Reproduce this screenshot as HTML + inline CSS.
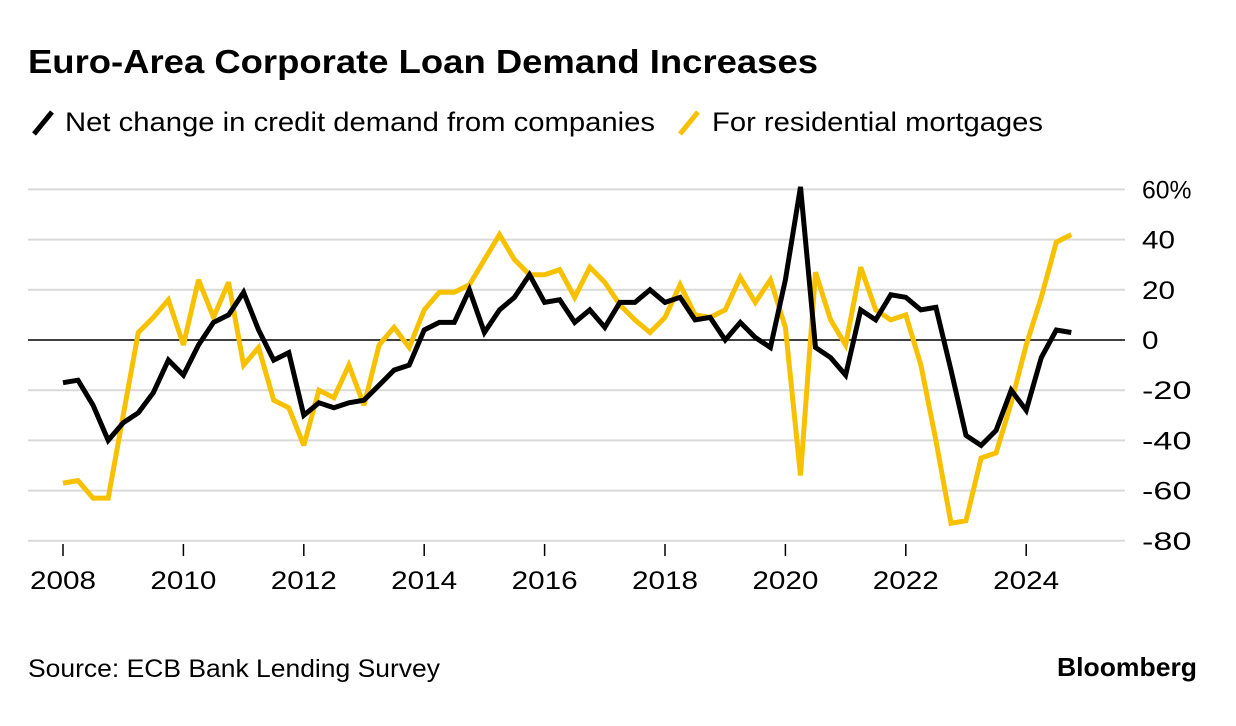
<!DOCTYPE html>
<html><head><meta charset="utf-8"><style>
body{margin:0;background:#fff;font-family:"Liberation Sans",sans-serif;}
#wrap{position:relative;width:1236px;height:726px;overflow:hidden;}
</style></head><body>
<div id="wrap">
<svg id="svg" width="1236" height="726">
<text x="28" y="73" font-size="33" font-weight="bold" fill="#000" textLength="790" lengthAdjust="spacingAndGlyphs">Euro-Area Corporate Loan Demand Increases</text>
<g>
<line x1="34" y1="134" x2="52" y2="112" stroke="#000" stroke-width="5"/>
<text x="65" y="131" font-size="27" fill="#000" textLength="590" lengthAdjust="spacingAndGlyphs">Net change in credit demand from companies</text>
<line x1="680" y1="134" x2="698" y2="112" stroke="#f7c100" stroke-width="5"/>
<text x="712" y="131" font-size="27" fill="#000" textLength="331" lengthAdjust="spacingAndGlyphs">For residential mortgages</text>
</g>
<g id="grid"></g><g id="ticks"></g><g id="series"></g>
<text x="28" y="677" font-size="25" fill="#000" textLength="412" lengthAdjust="spacingAndGlyphs">Source: ECB Bank Lending Survey</text>
<text x="1057" y="676" font-size="26" font-weight="bold" fill="#000" textLength="140" lengthAdjust="spacingAndGlyphs">Bloomberg</text>
</svg></div>
<script>
const yTicks=[60,40,20,0,-20,-40,-60,-80];
const yTickLabels=["60%","40","20","0","-20","-40","-60","-80"];
const xTicks=[2008,2010,2012,2014,2016,2018,2020,2022,2024];
const startYear=2008;
const companies=[-17,-16,-26,-40,-33,-29,-21,-8,-14,-2,7,10,19,4,-8,-5,-30,-25,-27,-25,-24,-18,-12,-10,4,7,7,20,3,12,17,26,15,16,7,12,5,15,15,20,15,17,8,9,0,7,1,-3,24,61,-3,-7,-14,12,8,18,17,12,13,-12,-38,-42,-36,-20,-28,-7,4,3];
const mortgages=[-57,-56,-63,-63,-30,3,9,16,-2,24,9,23,-10,-3,-24,-27,-42,-20,-23,-10,-26,-2,5,-3,12,19,19,22,32,42,32,26,26,28,17,29,23,14,8,3,9,22,10,9,12,25,15,24,5,-54,27,8,-2,29,12,8,10,-10,-40,-73,-72,-47,-45,-25,-2,17,39,42];
const NS="http://www.w3.org/2000/svg";
const xS=t=>63+(t-2008)*60.2;
const yS=v=>340-v*2.51;
function mk(tag,attrs,parent){const e=document.createElementNS(NS,tag);for(const k in attrs)e.setAttribute(k,attrs[k]);parent.appendChild(e);return e;}
const grid=document.getElementById('grid'),ticks=document.getElementById('ticks'),series=document.getElementById('series');
yTicks.forEach((v,i)=>{
 const l=mk('line',{x1:28,x2:1125,y1:yS(v),y2:yS(v),stroke:v===0?'#000':'#d9d9d9','stroke-width':v===0?1.5:2},grid);
 
 
 const lab=yTickLabels[i];
 const t=mk('text',{x:1142,y:yS(v)+9,'font-size':25,fill:'#000',textLength:lab.length*16.5,lengthAdjust:'spacingAndGlyphs'},ticks);
 t.textContent=lab;
 
 
});
xTicks.forEach(y=>{
 const l=mk('line',{x1:xS(y),x2:xS(y),y1:544,y2:556,stroke:'#000','stroke-width':1.5},ticks);
 
 
 const t=mk('text',{x:xS(y)-33,y:589,'font-size':25,fill:'#000',textLength:66,lengthAdjust:'spacingAndGlyphs'},ticks);
 t.textContent=y;
 
 
});
function path(arr,color,name){
 const d=arr.map((v,i)=>(i?'L':'M')+xS(startYear+i*0.25).toFixed(1)+','+yS(v).toFixed(1)).join('');
 const p=mk('path',{d:d,fill:'none',stroke:color,'stroke-width':5,'stroke-linejoin':'miter','stroke-miterlimit':3},series);
 
 
}
path(mortgages,'#f7c100','mortgages-line');
path(companies,'#000','companies-line');
</script>
</body></html>
